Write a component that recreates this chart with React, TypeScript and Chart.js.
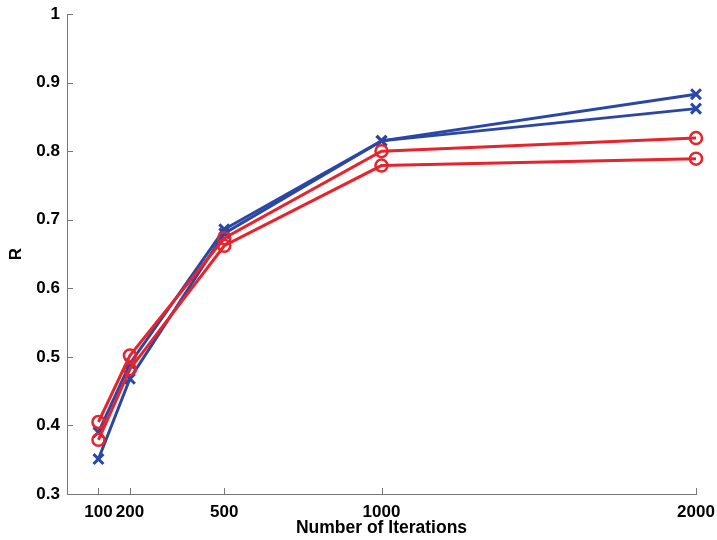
import React, { useEffect, useRef } from "react";
import { Chart, registerables } from "chart.js";

Chart.register(...registerables);

const iterations = [100, 200, 500, 1000, 2000];
const blueA = [0.39, 0.49, 0.686, 0.815, 0.883];
const blueB = [0.351, 0.468, 0.68, 0.815, 0.862];
const redA = [0.405, 0.502, 0.673, 0.8, 0.819];
const redB = [0.379, 0.482, 0.662, 0.779, 0.789];
const yTicks = [0.3, 0.4, 0.5, 0.6, 0.7, 0.8, 0.9, 1];

const BLUE = "#2a47a6";
const RED = "#e8232b";
const AXIS = "#777777";
const FONT = "'Liberation Sans', Arial, sans-serif";

const toPts = (ys: number[]) => iterations.map((x, i) => ({ x, y: ys[i] }));

const inwardTicks = {
  id: "inwardTicks",
  afterDraw(chart: any) {
    const { ctx, chartArea } = chart;
    const xs = chart.scales.x;
    const ys = chart.scales.y;
    ctx.save();
    ctx.strokeStyle = AXIS;
    ctx.lineWidth = 1;
    xs.ticks.forEach((t: any) => {
      const px = Math.round(xs.getPixelForValue(t.value)) + 0.5;
      ctx.beginPath();
      ctx.moveTo(px, chartArea.bottom);
      ctx.lineTo(px, chartArea.bottom - 6);
      ctx.stroke();
    });
    ys.ticks.forEach((t: any) => {
      const py = Math.round(ys.getPixelForValue(t.value)) + 0.5;
      ctx.beginPath();
      ctx.moveTo(chartArea.left, py);
      ctx.lineTo(chartArea.left + 6, py);
      ctx.stroke();
    });
    ctx.restore();
  },
};

export default function App() {
  const ref = useRef<HTMLCanvasElement>(null);
  useEffect(() => {
    if (!ref.current) return;
    const mk = (data: number[], color: string, style: string, radius: number, bw: number) => ({
      data: toPts(data),
      borderColor: color,
      backgroundColor: color,
      borderWidth: 3,
      pointStyle: style,
      pointRadius: radius,
      pointBorderWidth: bw,
      pointBorderColor: color,
      pointBackgroundColor: "rgba(0,0,0,0)",
      tension: 0,
      clip: false,
    });
    const chart = new Chart(ref.current, {
      type: "line",
      data: {
        datasets: [
          mk(redA, RED, "circle", 6, 2.5),
          mk(redB, RED, "circle", 6, 2.5),
          mk(blueA, BLUE, "crossRot", 7, 3),
          mk(blueB, BLUE, "crossRot", 7, 3),
        ] as any,
      },
      options: {
        animation: false,
        responsive: false,
        layout: { padding: { left: 0, right: 21, top: 14, bottom: 0 } },
        plugins: { legend: { display: false }, tooltip: { enabled: false } },
        scales: {
          x: {
            type: "linear",
            min: 0,
            max: 2000,
            afterBuildTicks: (s: any) => {
              s.ticks = iterations.map((v) => ({ value: v }));
            },
            afterFit: (s: any) => {
              s.height = 46;
              s.paddingLeft = 0;
              s.paddingRight = 0;
            },
            grid: { display: true, drawOnChartArea: false, drawTicks: false },
            border: { display: true, color: AXIS, width: 1 },
            ticks: {
              autoSkip: false,
              maxRotation: 0,
              padding: 8,
              color: "#000",
              font: { family: FONT, size: 17, weight: "bold" },
              callback: (v: any) => String(v),
            },
            title: {
              display: true,
              text: "Number of Iterations",
              color: "#000",
              padding: { top: 0, bottom: 1 },
              font: { family: FONT, size: 17.5, weight: "bold" },
            },
          },
          y: {
            type: "linear",
            min: 0.3,
            max: 1,
            afterBuildTicks: (s: any) => {
              s.ticks = yTicks.map((v) => ({ value: v }));
            },
            afterFit: (s: any) => {
              s.width = 67;
              s.paddingTop = 0;
              s.paddingBottom = 0;
            },
            grid: { display: true, drawOnChartArea: false, drawTicks: false },
            border: { display: true, color: AXIS, width: 1 },
            ticks: {
              padding: 7,
              color: "#000",
              font: { family: FONT, size: 17, weight: "bold" },
              callback: (v: any) => String(Math.round(Number(v) * 10) / 10),
            },
            title: {
              display: true,
              text: "R",
              color: "#000",
              padding: { top: 6, bottom: 0 },
              font: { family: FONT, size: 17, weight: "bold" },
            },
          },
        },
      },
      plugins: [inwardTicks],
    } as any);
    return () => chart.destroy();
  }, []);
  return (
    <div style={{ position: "fixed", left: 0, top: 0, width: 717, height: 540, background: "#fff" }}>
      <canvas ref={ref} width={717} height={540} />
    </div>
  );
}
